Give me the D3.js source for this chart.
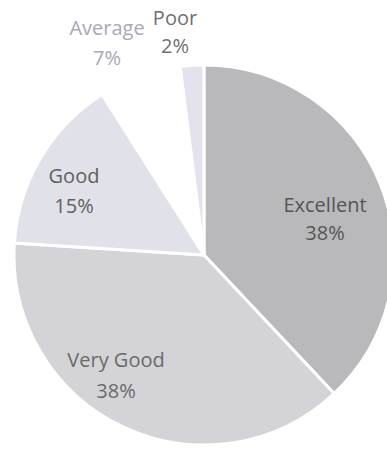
<!DOCTYPE html>
<html><head><meta charset="utf-8">
<script src="https://cdn.jsdelivr.net/npm/d3@7"></script>
<style>html,body{margin:0;padding:0;background:#fff;overflow:hidden}</style>
</head><body><svg id="c" width="387" height="449"></svg>
<script>
const categories = ["Excellent", "Very Good", "Good", "Average", "Poor"];
const values = [38, 38, 15, 7, 2];
const labels = ["38%", "38%", "15%", "7%", "2%"];
const fills = ["#b9b9bb", "#d3d3d8", "#e1e1e9", "#ffffff", "#e3e3ed"];
const labelColors = ["#555", "#6a6a6a", "#5f5f5f", "#a8a8b4", "#707070"];
const labelPos = [[325, 212, 240], [116, 367, 398], [74, 183, 213], [107, 35, 65], [175, 25, 53]];

const svg = d3.select("#c");
const cx = 204, cy = 255, r = 190;
const g = svg.append("g").attr("transform", `translate(${cx},${cy})`);
const pie = d3.pie().sort(null).value(d => d.v);
const arcs = pie(categories.map((c, i) => ({c, v: values[i], i})));
const arc = d3.arc().innerRadius(0).outerRadius(r);
g.selectAll("path").data(arcs).join("path")
  .attr("d", arc).attr("fill", d => fills[d.data.i])
  .attr("stroke", "#fff").attr("stroke-width", 3);

const lg = svg.append("g").attr("font-family", "'Open Sans', sans-serif").attr("font-size", 20).attr("text-anchor", "middle");
categories.forEach((c, i) => {
  const [x, y1, y2] = labelPos[i];
  lg.append("text").attr("x", x).attr("y", y1).attr("fill", labelColors[i]).text(c);
  lg.append("text").attr("x", x).attr("y", y2).attr("fill", labelColors[i]).text(labels[i]);
});
</script></body></html>
